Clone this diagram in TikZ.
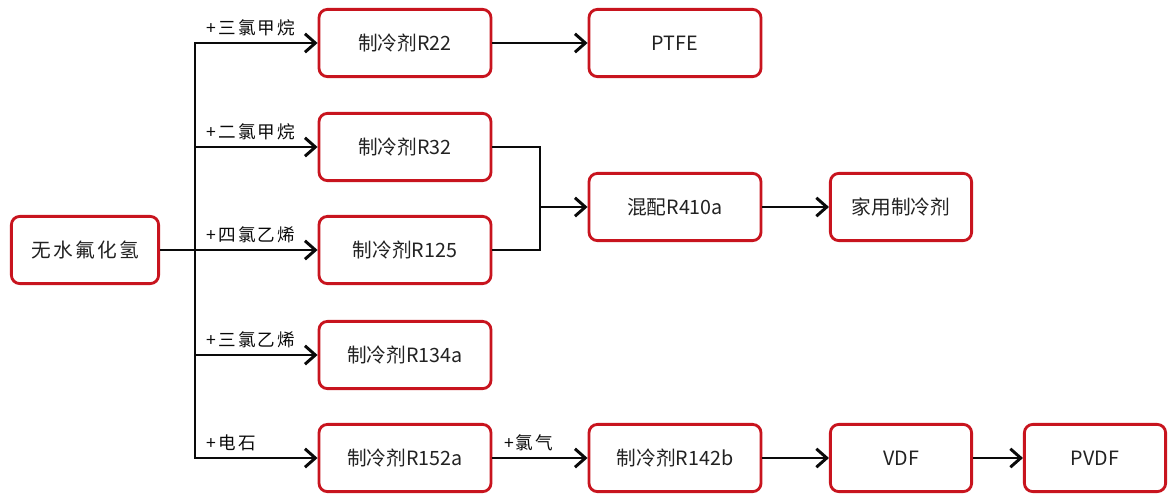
\documentclass[tikz,border=0pt]{standalone}
\usepackage{fontspec}
\setmainfont{Noto Sans CJK SC}
\newfontfamily\spacedfont[LetterSpace=12]{Noto Sans CJK SC}
\usepackage{xcolor}
\usetikzlibrary{positioning, arrows.meta, calc}
\definecolor{boxred}{HTML}{C8141E}
\definecolor{inkline}{HTML}{0A0A0A}

\begin{document}
\begin{tikzpicture}[x=0.025cm, y=-0.025cm,
    box/.style={draw=boxred, line width=2pt, rounded corners=6pt, fill=white,
      minimum width=4.3cm, minimum height=1.68cm, inner sep=2pt,
      text=inkline!90, font=\fontsize{14}{16}\selectfont},
    sbox/.style={box, minimum width=3.53cm},
    lbl/.style={anchor=south west, inner sep=1pt, text=inkline,
      font=\spacedfont\fontsize{12.5}{14}\selectfont},
    lnk/.style={line width=2.1pt, inkline},
    arr/.style={lnk, -{Straight Barb[length=2.6mm, width=4.6mm, line width=2.1pt]}}]
\useasboundingbox (0,0) rectangle (1169,495);
% --- source ---
\node[sbox, minimum width=3.68cm, font=\spacedfont\fontsize{14}{16}\selectfont] (hf) at (85,250) {无水氟化氢};
% --- refrigerants ---
\node[box] (r22) at (405,43) {制冷剂R22};
\node[box] (r32) at (405,147) {制冷剂R32};
\node[box] (r125) at (405,250) {制冷剂R125};
\node[box] (r134a) at (405,355) {制冷剂R134a};
\node[box] (r152a) at (405,458) {制冷剂R152a};
% --- downstream ---
\node[box] (ptfe) at (675,43) {PTFE};
\node[box] (r410a) at (675,207) {混配R410a};
\node[sbox] (home) at (901,207) {家用制冷剂};
\node[box] (r142b) at (675,458) {制冷剂R142b};
\node[sbox] (vdf) at (901,458) {VDF};
\node[sbox] (pvdf) at (1095,458) {PVDF};

% --- trunk and branches ---
\coordinate (trunk) at (195,250);
\draw[lnk] (hf.east) -- (trunk);
\draw[lnk, line cap=rect] (trunk|-r22) -- (trunk|-r152a);
\foreach \t/\l in {r22/+三氯甲烷, r32/+二氯甲烷, r125/+四氯乙烯, r134a/+三氯乙烯, r152a/+电石}{
  \draw[arr] (trunk|-\t) -- (\t.west);
  \node[lbl] at ($(trunk|-\t)+(10,-5)$) {\l};
}

% --- blend ---
\coordinate (mix) at (540,207);
\draw[lnk] (r32.east) -| (mix);
\draw[lnk] (r125.east) -| (mix);
\draw[arr] (mix) -- (r410a.west);
\draw[arr] (r410a) -- (home);
\draw[arr] (r22) -- (ptfe);

% --- PVDF chain ---
\draw[arr] (r152a) -- (r142b);
\node[lbl] at ($(r152a.east)+(10,-5)$) {+氯气};
\draw[arr] (r142b) -- (vdf);
\draw[arr] (vdf) -- (pvdf);
\end{tikzpicture}
\end{document}
